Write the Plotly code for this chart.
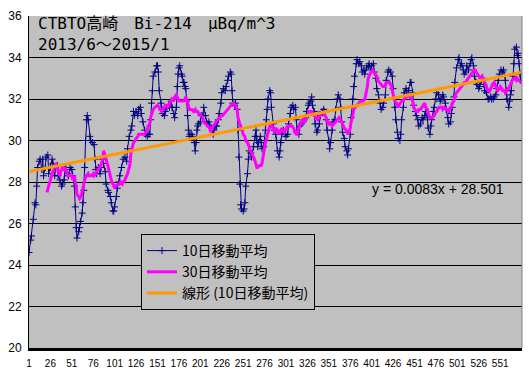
import plotly.graph_objects as go

# ---- data ----
DAY_10 = [1, 3, 4, 6, 8, 9, 10, 11, 13, 14, 16, 17, 18, 20, 21, 23, 24, 26, 28, 29,
          31, 32, 34, 35, 37, 39, 40, 42, 43, 44, 46, 47, 49, 51, 52, 54, 55, 56, 57, 59,
          60, 61, 63, 64, 65, 66, 67, 68, 69, 70, 72, 73, 75, 77, 78, 79, 80, 82, 84, 85,
          87, 88, 90, 91, 93, 94, 96, 97, 99, 100, 101, 103, 104, 106, 107, 109, 111, 113, 115, 116,
          118, 120, 121, 123, 124, 126, 128, 129, 131, 132, 134, 136, 137, 139, 140, 142, 143, 144, 145, 146,
          148, 150, 151, 152, 153, 155, 156, 157, 159, 160, 162, 164, 165, 167, 168, 170, 171, 173, 174, 175,
          176, 177, 179, 180, 181, 182, 183, 184, 185, 186, 187, 188, 189, 191, 192, 194, 195, 196, 197, 198,
          199, 201, 202, 204, 205, 207, 208, 209, 211, 212, 214, 216, 217, 219, 220, 222, 223, 225, 226, 228,
          230, 231, 233, 234, 236, 237, 238, 239, 241, 242, 244, 245, 246, 247, 248, 249, 251, 252, 253, 254,
          256, 257, 258, 260, 261, 263, 265, 266, 267, 268, 269, 271, 272, 273, 275, 276, 277, 278, 279, 280,
          282, 283, 284, 286, 287, 289, 290, 291, 293, 294, 295, 296, 298, 300, 301, 303, 304, 306, 307, 309,
          310, 312, 313, 314, 316, 317, 319, 321, 322, 324, 325, 327, 328, 330, 331, 332, 334, 335, 337, 338,
          340, 341, 343, 345, 346, 348, 349, 351, 352, 353, 355, 356, 358, 359, 361, 362, 364, 365, 366, 367,
          369, 370, 372, 373, 374, 376, 377, 379, 380, 381, 383, 384, 386, 387, 389, 390, 392, 393, 395, 397,
          398, 400, 401, 403, 404, 406, 407, 409, 411, 412, 414, 415, 417, 418, 420, 421, 423, 425, 426, 428,
          429, 431, 432, 434, 435, 436, 438, 439, 441, 442, 444, 446, 447, 449, 450, 452, 453, 455, 456, 458,
          460, 461, 463, 464, 466, 467, 469, 470, 471, 473, 474, 476, 477, 479, 481, 482, 484, 485, 487, 488,
          490, 491, 493, 494, 495, 497, 498, 500, 502, 503, 505, 506, 508, 509, 511, 512, 514, 516, 517, 518,
          520, 521, 523, 524, 526, 527, 529, 530, 532, 533, 535, 537, 538, 540, 541, 543, 544, 546, 547, 549,
          550, 552, 554, 555, 557, 558, 559, 561, 562, 563, 564, 566, 567, 568, 570, 571, 572, 573, 574, 575]
MA10 = [24.6, 25.2, 25.4, 26.2, 27.0, 26.9, 27.8, 28.7, 29.0, 29.1, 28.6, 29.1, 28.3, 28.7, 29.2, 29.3, 28.4, 28.7, 29.1, 28.9,
        28.3, 28.7, 28.8, 28.3, 28.1, 27.8, 27.9, 28.1, 28.6, 28.7, 28.4, 28.3, 28.7, 28.6, 28.3, 27.8, 26.8, 25.8, 25.3, 25.6,
        25.8, 26.1, 26.5, 27.0, 27.6, 28.7, 30.0, 31.0, 31.2, 31.0, 30.2, 30.0, 29.9, 29.8, 29.1, 28.6, 28.4, 28.7, 28.4, 28.7,
        29.1, 28.9, 28.5, 27.9, 27.6, 27.5, 27.3, 27.0, 26.6, 26.6, 26.8, 27.3, 27.7, 28.0, 28.3, 28.7, 29.1, 29.2, 29.0, 29.6,
        30.2, 30.5, 30.7, 31.4, 31.2, 31.4, 31.2, 31.5, 31.6, 31.3, 30.9, 30.5, 30.3, 30.2, 30.3, 30.3, 31.0, 31.8, 32.4, 33.1,
        33.3, 33.6, 33.6, 33.3, 32.4, 31.8, 31.5, 31.3, 31.2, 31.4, 31.6, 31.7, 31.6, 31.9, 31.6, 31.3, 31.1, 31.6, 32.6, 33.2,
        33.5, 33.6, 33.2, 33.1, 32.8, 32.8, 32.6, 32.5, 31.9, 31.2, 30.5, 30.2, 30.3, 30.3, 30.2, 29.9, 29.5, 29.9, 30.5, 30.7,
        30.8, 30.9, 31.2, 31.2, 31.6, 31.2, 30.9, 30.8, 30.9, 30.7, 30.6, 30.3, 30.5, 30.7, 30.7, 31.0, 31.3, 31.8, 32.3, 32.5,
        32.4, 32.6, 32.9, 33.1, 33.3, 33.2, 32.4, 31.8, 31.7, 31.8, 31.5, 30.5, 29.2, 27.9, 26.9, 26.7, 26.6, 26.7, 27.0, 27.8,
        28.4, 29.1, 29.5, 29.4, 29.2, 29.7, 30.2, 30.5, 30.0, 29.7, 29.9, 30.2, 29.9, 29.6, 29.7, 30.0, 30.5, 31.0, 31.5, 32.0,
        32.4, 32.3, 31.6, 30.8, 30.5, 30.3, 30.0, 29.5, 29.2, 29.5, 29.9, 30.3, 30.5, 30.3, 30.2, 30.3, 30.8, 31.3, 31.6, 31.7,
        31.5, 31.6, 31.0, 30.5, 30.3, 30.7, 30.8, 30.9, 31.0, 31.1, 31.4, 31.7, 31.8, 31.9, 32.1, 31.7, 31.4, 30.8, 30.4, 30.5,
        30.8, 31.2, 31.4, 31.5, 31.4, 31.0, 30.5, 30.0, 29.6, 29.9, 30.5, 30.9, 31.0, 31.5, 32.0, 32.2, 32.0, 31.6, 30.9, 30.4,
        30.1, 29.7, 29.5, 29.3, 29.6, 30.3, 31.1, 32.0, 32.6, 33.1, 33.7, 33.9, 33.7, 33.8, 33.6, 33.3, 33.4, 33.2, 33.5, 33.6,
        33.7, 33.4, 33.6, 33.7, 33.3, 33.0, 32.5, 32.2, 31.8, 31.5, 31.6, 31.8, 32.2, 32.9, 33.3, 33.4, 33.3, 33.1, 32.5, 31.6,
        31.0, 30.4, 30.1, 30.0, 30.3, 31.0, 31.6, 32.3, 32.5, 32.4, 32.4, 32.8, 32.8, 32.3, 31.7, 31.4, 31.2, 31.0, 30.7, 30.8,
        31.1, 31.0, 31.2, 31.4, 31.1, 30.6, 30.3, 30.7, 31.0, 31.4, 31.6, 32.0, 32.3, 32.2, 31.9, 32.0, 32.2, 32.1, 31.8, 31.5,
        31.1, 30.8, 30.9, 31.3, 31.6, 32.1, 32.8, 33.5, 33.9, 34.0, 33.6, 33.7, 33.4, 33.2, 33.3, 33.6, 33.4, 33.7, 33.9, 34.0,
        33.6, 33.1, 32.8, 32.7, 32.5, 32.6, 32.9, 33.0, 32.7, 32.4, 32.3, 32.0, 32.0, 32.1, 32.0, 32.0, 32.1, 32.2, 32.5, 32.9,
        33.2, 33.4, 33.3, 33.4, 32.9, 32.4, 32.0, 31.6, 31.9, 32.2, 32.4, 33.1, 33.7, 34.4, 34.5, 34.1, 34.2, 33.7, 33.2, 32.9]

DAY_30 = [22, 24, 25, 27, 28, 30, 31, 32, 34, 35, 37, 38, 40, 42, 43, 45, 46, 48, 49, 51,
          52, 54, 56, 57, 59, 60, 62, 63, 65, 66, 68, 70, 71, 73, 74, 76, 77, 79, 80, 82,
          84, 85, 87, 88, 89, 90, 91, 93, 94, 96, 97, 99, 101, 102, 104, 105, 107, 108, 110, 111,
          113, 115, 116, 118, 119, 120, 122, 123, 125, 126, 128, 129, 131, 132, 134, 136, 137, 139, 140, 142,
          143, 145, 146, 148, 150, 151, 153, 154, 156, 157, 159, 160, 162, 164, 165, 167, 168, 170, 171, 173,
          174, 176, 177, 179, 181, 182, 184, 185, 187, 188, 190, 191, 193, 195, 196, 198, 199, 201, 202, 204,
          205, 207, 209, 210, 212, 213, 215, 216, 218, 219, 221, 223, 224, 226, 227, 229, 230, 232, 233, 235,
          236, 237, 239, 240, 242, 244, 245, 247, 248, 250, 251, 253, 254, 256, 258, 259, 261, 262, 264, 265,
          267, 268, 270, 272, 273, 274, 275, 277, 279, 280, 282, 283, 285, 286, 288, 289, 291, 293, 294, 296,
          297, 299, 300, 302, 303, 305, 307, 308, 310, 311, 313, 314, 316, 317, 319, 321, 322, 324, 325, 327,
          328, 330, 331, 333, 334, 336, 338, 339, 341, 342, 344, 345, 347, 348, 349, 351, 352, 354, 355, 357,
          359, 360, 362, 363, 365, 366, 368, 369, 371, 373, 374, 376, 377, 379, 380, 382, 383, 385, 386, 388,
          390, 391, 393, 394, 396, 397, 399, 400, 402, 404, 405, 407, 408, 410, 411, 413, 414, 416, 418, 419,
          421, 422, 424, 425, 427, 428, 430, 432, 433, 435, 436, 438, 439, 441, 442, 444, 446, 447, 449, 450,
          452, 453, 455, 456, 458, 460, 461, 463, 464, 466, 467, 469, 470, 472, 474, 475, 477, 478, 480, 481,
          483, 484, 486, 488, 489, 491, 492, 494, 495, 497, 498, 500, 502, 503, 505, 506, 508, 509, 511, 512,
          514, 516, 517, 519, 520, 522, 523, 525, 526, 528, 530, 531, 533, 534, 536, 537, 539, 540, 542, 544,
          545, 547, 548, 550, 551, 553, 554, 556, 557, 559, 561, 562, 564, 565, 567, 568, 570, 571, 573, 575]
MA30 = [27.5, 27.8, 28.0, 28.2, 28.4, 28.6, 28.7, 28.9, 28.7, 28.5, 28.3, 28.5, 28.7, 28.6, 28.7, 28.5, 28.3, 28.3, 28.3, 28.3,
        28.1, 28.3, 27.8, 27.4, 27.3, 27.2, 27.3, 27.5, 27.8, 28.1, 28.3, 28.4, 28.3, 28.3, 28.3, 28.4, 28.3, 28.4, 28.5, 28.6,
        28.7, 28.8, 29.1, 29.5, 29.4, 29.2, 29.1, 28.8, 28.6, 28.3, 28.1, 27.9, 27.7, 27.8, 27.9, 27.9, 27.9, 28.0, 27.9, 28.0,
        28.1, 28.3, 28.4, 28.7, 28.9, 29.4, 29.7, 29.9, 30.0, 30.1, 30.2, 30.3, 30.3, 30.3, 30.3, 30.3, 30.4, 30.5, 30.7, 30.8,
        31.1, 31.4, 31.5, 31.6, 31.7, 31.7, 31.6, 31.5, 31.4, 31.5, 31.6, 31.7, 31.7, 31.6, 31.8, 31.9, 32.0, 31.9, 32.1, 32.2,
        32.1, 31.9, 31.9, 31.9, 31.9, 31.9, 32.1, 32.0, 31.7, 31.5, 31.5, 31.5, 31.4, 31.5, 31.4, 31.4, 31.3, 31.2, 31.2, 31.1,
        30.9, 30.8, 30.7, 30.7, 30.6, 30.4, 30.6, 30.7, 30.8, 30.9, 31.0, 31.1, 31.1, 31.2, 31.2, 31.3, 31.4, 31.5, 31.5, 31.6,
        31.7, 31.7, 31.8, 31.8, 31.7, 31.5, 31.1, 30.8, 30.7, 30.5, 30.3, 30.2, 30.0, 29.9, 29.7, 29.5, 29.4, 29.3, 29.1, 29.0,
        28.7, 28.7, 28.8, 28.8, 28.9, 29.2, 29.5, 29.9, 30.2, 30.4, 30.7, 30.7, 30.7, 30.5, 30.4, 30.6, 30.5, 30.3, 30.4, 30.6,
        30.5, 30.4, 30.5, 30.6, 30.7, 30.7, 30.7, 30.7, 30.6, 30.4, 30.3, 30.3, 30.6, 30.7, 30.9, 31.0, 30.9, 31.0, 31.1, 31.3,
        31.4, 31.4, 31.4, 31.3, 31.2, 31.1, 31.0, 31.1, 31.2, 31.3, 31.4, 31.3, 31.2, 31.1, 30.9, 30.8, 30.9, 30.8, 30.7, 30.8,
        30.9, 31.0, 31.1, 31.1, 31.0, 30.9, 30.7, 30.6, 30.5, 30.4, 30.3, 30.6, 30.9, 31.2, 31.5, 31.6, 31.7, 31.7, 31.8, 31.9,
        31.9, 31.9, 32.0, 32.2, 32.6, 33.0, 33.2, 33.3, 33.4, 33.3, 33.2, 33.1, 32.9, 32.8, 32.8, 32.7, 32.6, 32.6, 32.8, 32.8,
        32.8, 32.8, 32.6, 32.4, 32.1, 31.9, 31.8, 31.6, 31.7, 31.8, 31.9, 31.9, 32.0, 32.1, 32.1, 32.2, 32.1, 32.0, 31.9, 31.6,
        31.5, 31.4, 31.4, 31.5, 31.5, 31.6, 31.7, 31.8, 31.6, 31.5, 31.3, 31.1, 31.1, 31.1, 31.2, 31.3, 31.4, 31.5, 31.6, 31.6,
        31.6, 31.5, 31.6, 31.5, 31.5, 31.4, 31.5, 31.6, 31.8, 31.9, 32.1, 32.3, 32.4, 32.4, 32.5, 32.6, 32.7, 32.8, 32.8, 32.9,
        33.0, 33.1, 33.2, 33.3, 33.4, 33.4, 33.3, 33.2, 33.1, 33.0, 33.1, 33.0, 32.8, 32.7, 32.5, 32.4, 32.4, 32.5, 32.7, 32.8,
        32.7, 32.5, 32.4, 32.5, 32.6, 32.5, 32.4, 32.4, 32.3, 32.4, 32.5, 32.6, 32.8, 32.9, 33.0, 33.0, 32.9, 33.0, 32.9, 32.8]

# linear trendline of the 10-day series, as printed on the chart
TREND_SLOPE = 0.0083
TREND_INTERCEPT = 28.501
TREND_DAYS = list(range(1, 576))
TREND = [TREND_SLOPE * d + TREND_INTERCEPT for d in TREND_DAYS]

X_TICKS = list(range(1, 552, 25))
Y_TICKS = list(range(20, 37, 2))

TITLE_1 = "CTBTO高崎　Bi-214　μBq/m^3"
TITLE_2 = "2013/6～2015/1"
EQUATION = "y = 0.0083x + 28.501"
NAMES = ["10日移動平均", "30日移動平均", "線形 (10日移動平均)"]

JP = "Noto Sans CJK JP"
MONO_JP = "DejaVu Sans Mono, Noto Sans CJK JP"
AR = "Liberation Sans, Arial"

fig = go.Figure()
fig.add_trace(go.Scatter(
    x=DAY_10, y=MA10, name=NAMES[0], mode="lines+markers",
    line=dict(color="#000080", width=1),
    marker=dict(symbol="cross-thin", size=5, line=dict(width=1, color="#000080"), color="#000080"),
))
fig.add_trace(go.Scatter(
    x=DAY_30, y=MA30, name=NAMES[1], mode="lines",
    line=dict(color="#FF00FF", width=3),
))
fig.add_trace(go.Scatter(
    x=TREND_DAYS, y=TREND, name=NAMES[2], mode="lines",
    line=dict(color="#FF9900", width=3),
))

W, H = 529, 372
L, R, T, B = 29, 7, 16, 24
pw, ph = W - L - R, H - T - B


def px(xp):
    return (xp - L) / pw


def py(yp):
    return (H - B - yp) / ph


fig.update_layout(
    width=W, height=H,
    margin=dict(l=L, r=R, t=T, b=B, pad=0, autoexpand=False),
    paper_bgcolor="white", plot_bgcolor="#C0C0C0",
    showlegend=True,
    legend=dict(
        x=px(141), y=py(234), xanchor="left", yanchor="top",
        bgcolor="#C0C0C0", bordercolor="black", borderwidth=1,
        font=dict(family=JP, size=14, color="black"),
        itemwidth=30, tracegroupgap=0,
    ),
    xaxis=dict(
        range=[1, 576.5], tickvals=X_TICKS, ticktext=[str(v) for v in X_TICKS],
        automargin=False,
        showgrid=False, zeroline=False, showline=True, linecolor="black", linewidth=3,
        ticks="", tickfont=dict(family=AR, size=10, color="black"), ticklabelstandoff=4,
    ),
    yaxis=dict(
        range=[20, 36], tickvals=Y_TICKS, showgrid=True, gridcolor="black", gridwidth=1,
        automargin=False,
        zeroline=False, showline=True, linecolor="black", linewidth=1,
        ticks="", tickfont=dict(family=AR, size=12, color="black"), ticklabelstandoff=4,
    ),
    annotations=[
        dict(text=TITLE_1 + "<br>" + TITLE_2, x=px(36), y=py(34), xref="paper", yref="paper",
             xanchor="left", yanchor="middle", align="left", showarrow=False,
             font=dict(family=MONO_JP, size=16, color="black")),
        dict(text=EQUATION, x=px(438), y=py(189), xref="paper", yref="paper",
             xanchor="center", yanchor="middle", showarrow=False,
             font=dict(family=AR, size=14, color="black")),
    ],
    shapes=[
        dict(type="line", xref="paper", yref="paper", x0=1, x1=1, y0=0, y1=1,
             line=dict(color="#808080", width=1)),
    ],
)

fig.write_html("out.html", config={"displayModeBar": False},
               post_script="document.body.style.margin='0';")
